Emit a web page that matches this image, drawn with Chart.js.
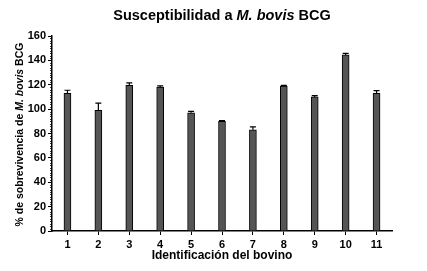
<!DOCTYPE html>
<html>
<head>
<meta charset="utf-8">
<script src="https://cdn.jsdelivr.net/npm/chart.js@4/dist/chart.umd.min.js"></script>
<style>
  html, body { margin: 0; padding: 0; background: #fff; }
  #wrap { width: 427px; height: 271px; }
</style>
</head>
<body>
<div id="wrap"><canvas id="grafico"></canvas></div>
<script>
// datos
const bovinos = ["1", "2", "3", "4", "5", "6", "7", "8", "9", "10", "11"];
const sobrevivencia = [113, 99, 119.5, 118, 97, 90, 83, 119, 110, 144.5, 113];
const errorEstandar = [2.5, 6, 2, 1, 1.2, 0.5, 2.5, 0.5, 1, 1.2, 2.2];
const ticksY = [0, 20, 40, 60, 80, 100, 120, 140, 160];

const FUENTE = "'Liberation Sans', Arial, sans-serif";

// dibuja texto con partes en cursiva
function textoMixto(ctx, partes, size, cx, cy) {
    let total = 0;
    partes.forEach(p => {
        ctx.font = (p.it ? "italic " : "") + "bold " + size + "px " + FUENTE;
        p.w = ctx.measureText(p.t).width;
        total += p.w;
    });
    let x = cx - total / 2;
    ctx.textBaseline = "middle";
    ctx.textAlign = "left";
    partes.forEach(p => {
        ctx.font = (p.it ? "italic " : "") + "bold " + size + "px " + FUENTE;
        ctx.fillText(p.t, x, cy);
        x += p.w;
    });
}

const extras = {
    id: "extras",
    afterDatasetsDraw(chart) {
        const ctx = chart.ctx;
        const y = chart.scales.y;
        const area = chart.chartArea;
        ctx.save();
        ctx.strokeStyle = "#000";
        ctx.lineWidth = 1.2;

        // barras de error (solo hacia arriba)
        chart.getDatasetMeta(0).data.forEach((bar, i) => {
            const top = y.getPixelForValue(sobrevivencia[i] + errorEstandar[i]);
            ctx.beginPath();
            ctx.moveTo(bar.x, bar.y);
            ctx.lineTo(bar.x, top);
            ctx.moveTo(bar.x - 3, top);
            ctx.lineTo(bar.x + 3, top);
            ctx.stroke();
        });

        // ticks menores del eje y
        ctx.lineWidth = 0.8;
        for (let v = 0; v <= 160; v += 2) {
            if (v % 20 === 0) continue;
            const py = Math.round(y.getPixelForValue(v)) + 0.5;
            ctx.beginPath();
            ctx.moveTo(area.left - 2, py);
            ctx.lineTo(area.left, py);
            ctx.stroke();
        }

        // títulos
        ctx.fillStyle = "#000";
        const cx = (area.left + area.right) / 2;
        textoMixto(ctx, [{ t: "Susceptibilidad a " }, { t: "M. bovis", it: true }, { t: " BCG" }], 14.5, cx, 16);
        textoMixto(ctx, [{ t: "Identificación del bovino" }], 12, cx, 256);

        ctx.translate(20, (area.top + area.bottom) / 2 + 1);
        ctx.rotate(-Math.PI / 2);
        textoMixto(ctx, [{ t: "% de sobrevivencia de " }, { t: "M. bovis", it: true }, { t: " BCG" }], 10.5, 0, 0);
        ctx.restore();
    }
};

new Chart(document.getElementById("grafico"), {
    type: "bar",
    data: {
        labels: bovinos,
        datasets: [{
            data: sobrevivencia,
            backgroundColor: "#555555",
            borderColor: "#000",
            borderWidth: 1,
            barThickness: 7
        }]
    },
    options: {
        responsive: true,
        maintainAspectRatio: false,
        animation: false,
        layout: { padding: { top: 36, right: 35, left: 0, bottom: 0 } },
        plugins: { legend: { display: false }, tooltip: { enabled: false } },
        scales: {
            x: {
                afterFit: s => { s.height = 40; },
                grid: { display: true, drawOnChartArea: false, tickLength: 4, tickColor: "#000", offset: false },
                border: { color: "#000", width: 1.5 },
                ticks: { color: "#000", font: { family: FUENTE, weight: "bold", size: 11 }, padding: 3 }
            },
            y: {
                min: 0,
                max: 160,
                afterFit: s => { s.width = 52; },
                afterBuildTicks: s => { s.ticks = ticksY.map(v => ({ value: v })); },
                grid: { display: true, drawOnChartArea: false, tickLength: 4, tickColor: "#000" },
                border: { color: "#000", width: 1.5 },
                ticks: { color: "#000", font: { family: FUENTE, weight: "bold", size: 11 }, padding: 2 }
            }
        }
    },
    plugins: [extras]
});
</script>
</body>
</html>
